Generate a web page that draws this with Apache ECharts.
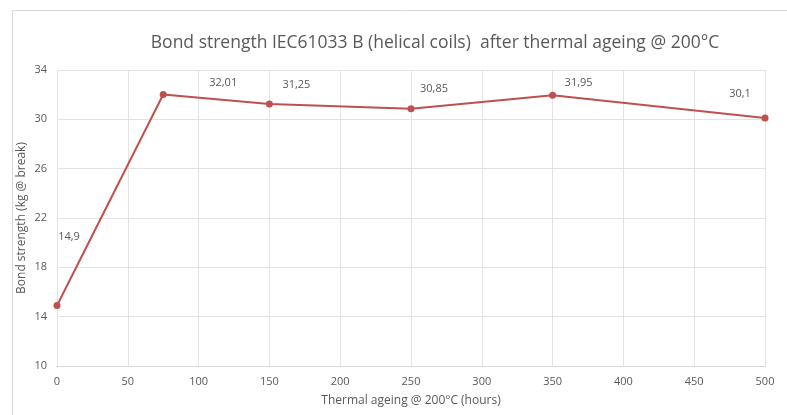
<!DOCTYPE html>
<html>
<head>
<meta charset="utf-8">
<script src="https://cdn.jsdelivr.net/npm/echarts@6/dist/echarts.min.js"></script>
<style>
  html, body { margin: 0; padding: 0; background: #fff; }
  #main { width: 787px; height: 415px; }
</style>
</head>
<body>
<div id="main"></div>
<script>
// hours of ageing and the measured bond strength
var hours = [0, 75, 150, 250, 350, 500]
var strength = [14.9, 32.01, 31.25, 30.85, 31.95, 30.1]
var strengthText = ['14,9', '32,01', '31,25', '30,85', '31,95', '30,1'] // excel shows comma decimals

// where excel dropped each label relative to its point
var labelOffsets = [[12, -69], [60, -12], [27, -19], [23, -20], [26, -12], [-25, -24]]

var chart = echarts.init(document.getElementById('main'))
var textColor = '#595959'
var font = '"Open Sans", "Liberation Sans", sans-serif'

var points = hours.map(function (h, i) {
  return {
    value: [h, strength[i]],
    label: {
      show: true,
      offset: labelOffsets[i],
      formatter: strengthText[i]
    }
  }
})

chart.setOption({
  animation: false,
  graphic: [{
    type: 'rect',
    shape: { x: 12.5, y: 10.5, width: 800, height: 420 },
    style: { fill: 'none', stroke: '#d9d9d9', lineWidth: 1 },
    silent: true
  }],
  title: {
    text: 'Bond strength IEC61033 B (helical coils)  after thermal ageing @ 200°C',
    left: 430,
    top: 29,
    textAlign: 'center',
    textStyle: { fontFamily: font, fontSize: 17.5, fontWeight: 'normal', color: textColor }
  },
  grid: { left: 57, right: 22, top: 70, bottom: 49 },
  xAxis: {
    type: 'value',
    min: 0,
    max: 500,
    interval: 50,
    name: 'Thermal ageing @ 200°C (hours)',
    nameLocation: 'middle',
    nameGap: 29,
    nameTextStyle: { fontFamily: font, fontSize: 12, color: textColor },
    axisLine: { show: true, lineStyle: { color: '#d9d9d9' } },
    axisTick: { show: false },
    axisLabel: { fontFamily: font, fontSize: 11, color: textColor, margin: 10 },
    splitLine: { show: true, lineStyle: { color: '#e3e3e3' } }
  },
  yAxis: {
    type: 'value',
    min: 10,
    max: 34,
    interval: 4,
    name: 'Bond strength (kg @ break)',
    nameLocation: 'middle',
    nameGap: 29,
    nameMoveOverlap: false,
    nameTextStyle: { fontFamily: font, fontSize: 12, color: textColor },
    axisLine: { show: false },
    axisTick: { show: false },
    axisLabel: { fontFamily: font, fontSize: 11, color: textColor, margin: 10 },
    splitLine: { show: true, lineStyle: { color: '#e3e3e3' } }
  },
  series: [{
    type: 'line',
    data: points,
    symbol: 'circle',
    symbolSize: 7,
    lineStyle: { color: '#c0504d', width: 2 },
    itemStyle: { color: '#c0504d' },
    label: { fontFamily: font, fontSize: 11, color: textColor, position: 'inside' }
  }]
})
</script>
</body>
</html>
